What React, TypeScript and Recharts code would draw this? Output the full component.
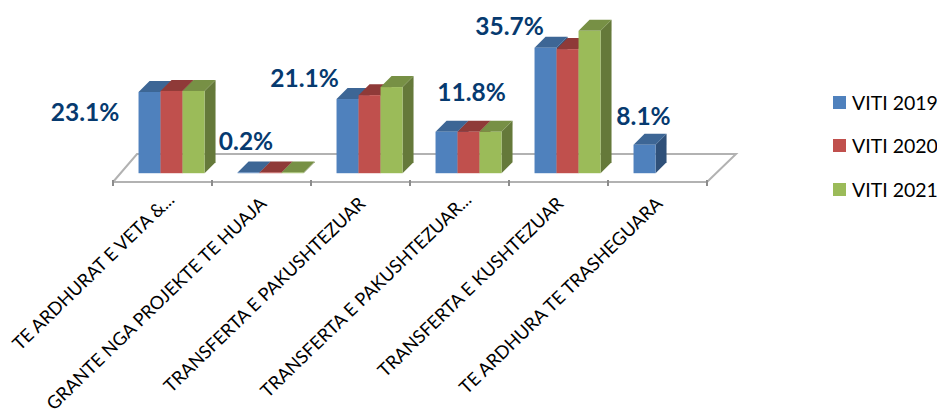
import { BarChart, Bar, XAxis, YAxis, LabelList, usePlotArea } from "recharts";

const categories = [
  "TE ARDHURAT E VETA &...",
  "GRANTE NGA PROJEKTE TE HUAJA",
  "TRANSFERTA E PAKUSHTEZUAR",
  "TRANSFERTA E PAKUSHTEZUAR...",
  "TRANSFERTA E KUSHTEZUAR",
  "TE ARDHURA TE TRASHEGUARA",
];
const viti2019 = [23.1, 0.2, 21.1, 11.8, 35.7, 8.1];
const viti2020 = [23.4, 0.2, 22.2, 11.8, 35.3, null];
const viti2021 = [23.4, 0.2, 24.5, 11.8, 40.5, null];

const chartData = categories.map((name, i) => ({
  name,
  v2019: viti2019[i],
  v2020: viti2020[i],
  v2021: viti2021[i],
}));

const FONT = "Lato, sans-serif";
const DEPTH = 11;
const SHIFT = 9; // bars stand in the middle of the floor, not on the front edge

const series = [
  { key: "v2019", name: "VITI 2019", front: "#4f81bd", top: "#3d6695", side: "#2f5079" },
  { key: "v2020", name: "VITI 2020", front: "#c0504d", top: "#8f3a38", side: "#7a302e" },
  { key: "v2021", name: "VITI 2021", front: "#9bbb59", top: "#779045", side: "#65793a" },
];

// the data labels in the original were dragged away from their bars
const labelNudge = [
  { dx: -64.5, dy: 20 },
  { dx: -2.5, dy: -31 },
  { dx: -43, dy: -21 },
  { dx: 25, dy: -40 },
  { dx: -36, dy: -22 },
  { dx: -1, dy: -29 },
];

function Bar3D(props: any) {
  const { x, y, width, height, value, front, top, side } = props;
  if (value == null) return null;
  const l = x + SHIFT;
  const r = l + width;
  const b = y + height;
  return (
    <g>
      <polygon points={`${r},${y} ${r + DEPTH},${y - DEPTH} ${r + DEPTH},${b - DEPTH} ${r},${b}`} fill={side} />
      <polygon points={`${l},${y} ${l + DEPTH},${y - DEPTH} ${r + DEPTH},${y - DEPTH} ${r},${y}`} fill={top} />
      <rect x={l} y={y} width={width} height={height} fill={front} />
    </g>
  );
}

function Floor() {
  const plot = usePlotArea();
  if (!plot) return null;
  const left = plot.x;
  const right = plot.x + plot.width;
  const front = plot.y + plot.height;
  const back = front - 28;
  const step = plot.width / categories.length;
  const ticks = [0, 1, 2, 3, 4, 5, 6];
  return (
    <g stroke="#b2b2b2" strokeWidth={2} fill="none">
      <polyline points={`${left},${front} ${left + 24},${back} ${right + 29},${back} ${right},${front}`} />
      <line x1={left} x2={right} y1={front} y2={front} />
      {ticks.map((t) => (
        <line key={t} x1={left + t * step} x2={left + t * step} y1={front - 2} y2={front + 4} stroke="#8c8c8c" />
      ))}
    </g>
  );
}

function AngledTick(props: any) {
  const { x, y, payload } = props;
  // truncated names reach a little further along the slant
  const cut = payload.value.endsWith("...");
  return (
    <text
      transform={`translate(${x + (cut ? 13 : 6)},${y + (cut ? 11 : 15)}) rotate(-44)`}
      textAnchor="end"
      fontFamily={FONT}
      fontSize={18.2}
      fill="#000"
    >
      {payload.value}
    </text>
  );
}

function PercentLabel(props: any) {
  const { x, y, width, value, index } = props;
  const nudge = labelNudge[index];
  return (
    <text
      x={x + SHIFT + width / 2 + nudge.dx}
      y={y + nudge.dy}
      dy="0.36em"
      textAnchor="middle"
      fontFamily={FONT}
      fontSize={24.5}
      fontWeight={700}
      fill="#063a6f"
    >
      {value.toFixed(1)}%
    </text>
  );
}

export default function App() {
  return (
    <div style={{ position: "absolute", left: 0, top: 0, width: 937, height: 411, overflow: "hidden", background: "#fff" }}>
      <BarChart
        width={937}
        height={411}
        data={chartData}
        margin={{ top: 15, right: 230, bottom: 29, left: 113 }}
        barCategoryGap="16.7%"
        barGap={0}
      >
        <Floor />
        <XAxis dataKey="name" height={200} interval={0} axisLine={false} tickLine={false} tick={<AngledTick />} />
        <YAxis hide domain={[-2.5, 45]} />
        {series.map((s) => (
          <Bar
            key={s.key}
            dataKey={s.key}
            name={s.name}
            fill={s.front}
            isAnimationActive={false}
            shape={(p: any) => <Bar3D {...p} front={s.front} top={s.top} side={s.side} />}
          >
            {s.key === "v2019" && <LabelList dataKey="v2019" content={<PercentLabel />} />}
          </Bar>
        ))}
      </BarChart>
      {series.map((s, i) => (
        <div
          key={s.key}
          style={{
            position: "absolute",
            left: 833,
            top: 87 + i * 43.5,
            height: 30,
            display: "flex",
            alignItems: "center",
            fontFamily: FONT,
            fontSize: 19.5,
            color: "#000",
            whiteSpace: "nowrap",
          }}
        >
          <span style={{ width: 13, height: 13, background: s.front, marginRight: 6 }} />
          {s.name}
        </div>
      ))}
    </div>
  );
}
